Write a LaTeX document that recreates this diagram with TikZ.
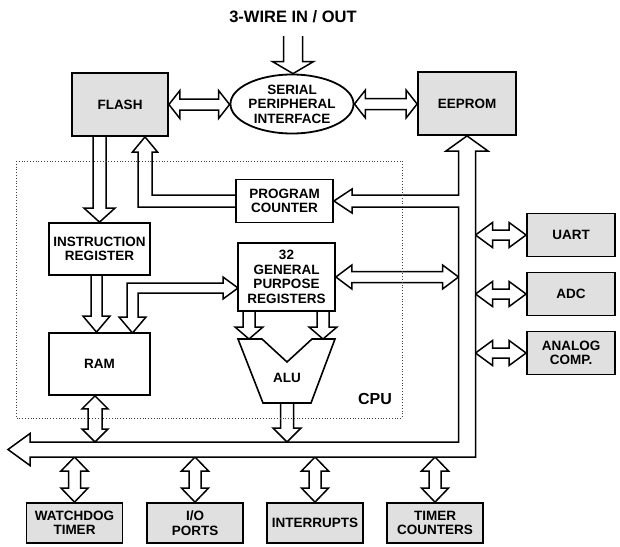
\documentclass[tikz,border=0pt]{standalone}
\usepackage{fontspec}
\setmainfont{Liberation Sans}
\usetikzlibrary{shapes.geometric,calc}
\pgfdeclarelayer{bg}
\pgfsetlayers{bg,main}
\newcommand\lbl{\fontsize{13.5}{14.5}\selectfont\bfseries}
% horizontal double fat arrow: left tip, right tip, shaft half, head half, head length
\newcommand\dblH[5]{\draw[fatarr] let \p1=#1, \p2=#2 in
 (\x1,\y1) -- (\x1+#5pt,\y1+#4pt) -- (\x1+#5pt,\y1+#3pt) -- (\x2-#5pt,\y1+#3pt) -- (\x2-#5pt,\y1+#4pt) -- (\x2,\y1)
 -- (\x2-#5pt,\y1-#4pt) -- (\x2-#5pt,\y1-#3pt) -- (\x1+#5pt,\y1-#3pt) -- (\x1+#5pt,\y1-#4pt) -- cycle;}
% vertical double fat arrow: top tip, bottom tip
\newcommand\dblV[5]{\draw[fatarr] let \p1=#1, \p2=#2 in
 (\x1,\y1) -- (\x1+#4pt,\y1-#5pt) -- (\x1+#3pt,\y1-#5pt) -- (\x1+#3pt,\y2+#5pt) -- (\x1+#4pt,\y2+#5pt) -- (\x1,\y2)
 -- (\x1-#4pt,\y2+#5pt) -- (\x1-#3pt,\y2+#5pt) -- (\x1-#3pt,\y1-#5pt) -- (\x1-#4pt,\y1-#5pt) -- cycle;}
% single downward fat arrow: tail centre, tip
\newcommand\sglV[5]{\draw[fatarr] let \p1=#1, \p2=#2 in
 (\x1-#3pt,\y1) -- (\x1-#3pt,\y2+#5pt) -- (\x1-#4pt,\y2+#5pt) -- (\x1,\y2) -- (\x1+#4pt,\y2+#5pt) -- (\x1+#3pt,\y2+#5pt) -- (\x1+#3pt,\y1);}
\begin{document}
\begin{tikzpicture}[x=1pt,y=-1pt,
  box/.style={draw,line width=1.8pt,inner sep=0pt,align=center,font=\lbl},
  gbox/.style={box,fill=black!12},
  wbox/.style={box,fill=white},
  fatarr/.style={draw,fill=white,line width=1.5pt,line join=miter}]
\useasboundingbox (0,0) rectangle (620,546);
\begin{pgfonlayer}{bg}
\fill[white] (0,0) rectangle (620,546);
\end{pgfonlayer}
% nodes
\node[font=\fontsize{16.5}{18}\selectfont\bfseries] (title) at (293,17) {3-WIRE IN / OUT};
\node[gbox,minimum width=96pt,minimum height=63pt] (flash) at (120,104.5) {FLASH};
\node[gbox,minimum width=98pt,minimum height=63pt] (eeprom) at (467,103.5) {EEPROM};
\node[box,ellipse,fill=white,minimum width=122pt,minimum height=59pt] (spi) at (292,104) {SERIAL\\PERIPHERAL\\INTERFACE};
\node[wbox,minimum width=97pt,minimum height=43pt] (pc) at (284.5,201) {PROGRAM\\COUNTER};
\node[wbox,minimum width=101pt,minimum height=52pt] (ir) at (99.5,249) {INSTRUCTION\\REGISTER};
\node[wbox,minimum width=101pt,minimum height=62pt] (ram) at (99.5,364) {RAM};
\node[wbox,minimum width=97pt,minimum height=68pt] (gpr) at (286.5,277) {32\\GENERAL\\PURPOSE\\REGISTERS};
\draw[line width=1.6pt,fill=white] (238,339) -- (262,339) -- (287,362) -- (312,339) -- (335,339) -- (311,403) -- (263,403) -- cycle;
\node[font=\lbl] (alu) at (287,378) {ALU};
\node[font=\fontsize{16}{18}\selectfont\bfseries] (cpu) at (375,399) {CPU};
\node[gbox,minimum width=88pt,minimum height=43pt] (uart) at (571,235) {UART};
\node[gbox,minimum width=88pt,minimum height=43pt] (adc) at (571,294) {ADC};
\node[gbox,minimum width=88pt,minimum height=43pt] (acomp) at (571,353) {ANALOG\\COMP.};
\node[gbox,minimum width=96pt,minimum height=40pt] (wdt) at (74.5,523) {WATCHDOG\\TIMER};
\node[gbox,minimum width=96pt,minimum height=40pt] (io) at (195,523) {I/O\\PORTS};
\node[gbox,minimum width=96pt,minimum height=40pt] (intr) at (315,523) {INTERRUPTS};
\node[gbox,minimum width=96pt,minimum height=40pt] (tmr) at (435,523) {TIMER\\COUNTERS};
% helper coordinates
\coordinate (busin) at (0,442);
\coordinate (busout) at (0,457);
\coordinate (busl) at (458.5,0);
\coordinate (busr) at (475.5,0);
\coordinate (alul) at (249,339);
\coordinate (alur) at (323,339);
\coordinate (alub) at (287,403);
\coordinate (ramb) at ($(ram.south)+(-4.5,0)$);
\coordinate (irb) at ($(ir.south)+(-3,0)$);
\coordinate (ramt) at ($(ram.north)+(-3,0)$);
\coordinate (gprbl) at (249,311);
\coordinate (gprbr) at (323,311);
\coordinate (titlearr) at (293,36);
% connectors
\begin{pgfonlayer}{bg}
\sglV{(titlearr)}{(spi.north)}{9.5}{20.5}{12}
\dblH{(flash.east)}{(spi.west)}{5.5}{14}{11}
\dblH{(spi.east)}{(eeprom.west)}{5.5}{14}{11}
\sglV{(ir.north |- flash.south)}{(ir.north)}{6.5}{15.5}{14}
\sglV{(irb)}{(ramt)}{5.5}{13.5}{16}
\sglV{(gprbl)}{(alul)}{6}{14}{12}
\sglV{(gprbr)}{(alur)}{6}{14}{12}
\sglV{(alub)}{(alub |- busin)}{6.5}{14}{14}
\dblV{(ramb)}{(ramb |- busin)}{7}{13}{13}
\dblH{(gpr.east)}{(gpr.east -| busl)}{5.5}{12}{16}
\dblH{(uart.west -| busr)}{(uart.west)}{5}{12.5}{17}
\dblH{(adc.west -| busr)}{(adc.west)}{5}{12.5}{17}
\dblH{(acomp.west -| busr)}{(acomp.west)}{5}{12.5}{17}
\dblV{(wdt.north |- busout)}{(wdt.north)}{6}{13.5}{14}
\dblV{(io.north |- busout)}{(io.north)}{6}{13.5}{14}
\dblV{(intr.north |- busout)}{(intr.north)}{6}{13.5}{14}
\dblV{(tmr.north |- busout)}{(tmr.north)}{6}{13.5}{14}
% data bus with branches to EEPROM and program counter
\draw[fatarr] (475.5,151) -- (488,151) -- (eeprom.south) -- (446,151) -- (458.5,151) -- (458.5,195)
  -- (352,195) -- (352,189) -- (pc.east) -- (352,213) -- (352,207) -- (458.5,207) -- (458.5,442)
  -- (30,442) -- (30,433.5) -- (8,449.5) -- (30,465.5) -- (30,457) -- (475.5,457) -- cycle;
% program counter to flash
\draw[fatarr] (236,195) -- (152,195) -- (152,152) -- (157.5,152) -- ($(flash.south)+(25,0)$)
  -- (132.5,152) -- (138,152) -- (138,207) -- (236,207);
% registers to RAM
\draw[fatarr] (238,288) -- (223,277) -- (223,283) -- (127,283) -- (127,317) -- (119,317) -- (132.5,333)
  -- (146,317) -- (138,317) -- (138,293) -- (223,293) -- (223,299) -- cycle;
\end{pgfonlayer}
% CPU boundary
\draw[dotted,line width=0.8pt,black!75] (16,161) rectangle (402,418);
\end{tikzpicture}
\end{document}
